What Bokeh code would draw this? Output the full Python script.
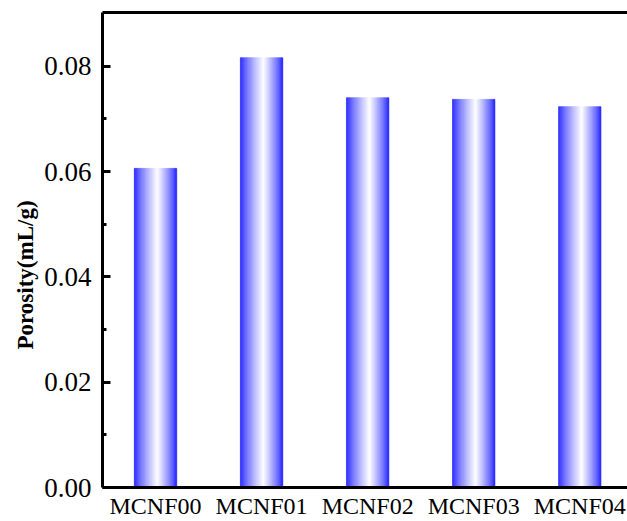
from bokeh.plotting import figure
from bokeh.models import Range1d, LinearAxis, FixedTicker, ColumnDataSource, Title
from bokeh.embed import file_html
from bokeh.resources import INLINE

categories = ["MCNF00", "MCNF01", "MCNF02", "MCNF03", "MCNF04"]
porosity = [0.0606, 0.0816, 0.0740, 0.0737, 0.0723]
y_ticks = [0.0, 0.02, 0.04, 0.06, 0.08]
y_tick_labels = ["0.00", "0.02", "0.04", "0.06", "0.08"]
y_title = "Porosity(mL/g)"

BAR_W = 0.4
N_STRIPS = 48
EDGE = (30, 30, 255)
WHITE_POS = 0.55

p = figure(width=627, height=521, output_backend="svg", toolbar_location=None,
           x_range=Range1d(-0.5, 4.45), y_range=Range1d(0, 0.0902),
           min_border_left=102, min_border_right=0, min_border_top=12, min_border_bottom=34)
p.outline_line_color = None
p.grid.visible = False
p.background_fill_color = "white"
p.border_fill_color = "white"

# gradient bars as strips
left, right, top, colors = [], [], [], []
for i, v in enumerate(porosity):
    x0 = i - BAR_W / 2
    for k in range(N_STRIPS):
        t = (k + 0.5) / N_STRIPS
        if t <= WHITE_POS:
            f = t / WHITE_POS
        else:
            f = (1 - t) / (1 - WHITE_POS)
        f = f ** 0.8
        r = int(EDGE[0] + (255 - EDGE[0]) * f)
        g = int(EDGE[1] + (255 - EDGE[1]) * f)
        b = int(EDGE[2] + (255 - EDGE[2]) * f)
        left.append(x0 + BAR_W * k / N_STRIPS)
        right.append(x0 + BAR_W * (k + 1) / N_STRIPS)
        top.append(v)
        colors.append("#%02x%02x%02x" % (r, g, b))

src = ColumnDataSource(dict(left=left, right=right, top=top, bottom=[0] * len(top), color=colors))
p.quad(left="left", right="right", top="top", bottom="bottom", fill_color="color",
       line_color="color", line_width=0.6, source=src)

font = "Liberation Serif"

# x axis
xa = p.xaxis[0]
xa.ticker = FixedTicker(ticks=list(range(len(categories))))
xa.major_label_overrides = {i: c for i, c in enumerate(categories)}
xa.major_label_text_font = font
xa.major_label_text_font_size = "24px"
xa.major_label_text_color = "black"
xa.major_tick_line_color = None
xa.major_tick_in = 0
xa.major_tick_out = 0
xa.minor_tick_line_color = None
xa.minor_tick_in = 0
xa.minor_tick_out = 0
xa.axis_line_width = 3
xa.axis_line_color = "black"
xa.major_label_standoff = 5

# y axis
ya = p.yaxis[0]
ya.ticker = FixedTicker(ticks=y_ticks, minor_ticks=[0.01, 0.03, 0.05, 0.07])
ya.major_label_overrides = {t: l for t, l in zip(y_ticks, y_tick_labels)}
ya.major_label_text_font = font
ya.major_label_text_font_size = "27px"
ya.major_label_text_color = "black"
ya.major_tick_in = 8
ya.major_tick_out = 0
ya.major_tick_line_width = 3
ya.minor_tick_in = 4
ya.minor_tick_out = 0
ya.minor_tick_line_width = 3
ya.axis_line_width = 3
ya.axis_line_color = "black"
ya.major_label_standoff = 11

p.add_layout(Title(text=y_title, align="left", offset=138, standoff=8, text_font=font,
                   text_font_style="bold", text_font_size="23px", text_color="black"), "left")

# top border line
top_ax = LinearAxis(ticker=FixedTicker(ticks=[]), major_tick_line_color=None,
                    major_tick_in=0, major_tick_out=0, minor_tick_in=0, minor_tick_out=0,
                    minor_tick_line_color=None, major_label_text_font_size="0px",
                    axis_line_width=3, axis_line_color="black", major_label_standoff=0)
p.add_layout(top_ax, "above")

open("out.html", "w").write(file_html(p, INLINE))
